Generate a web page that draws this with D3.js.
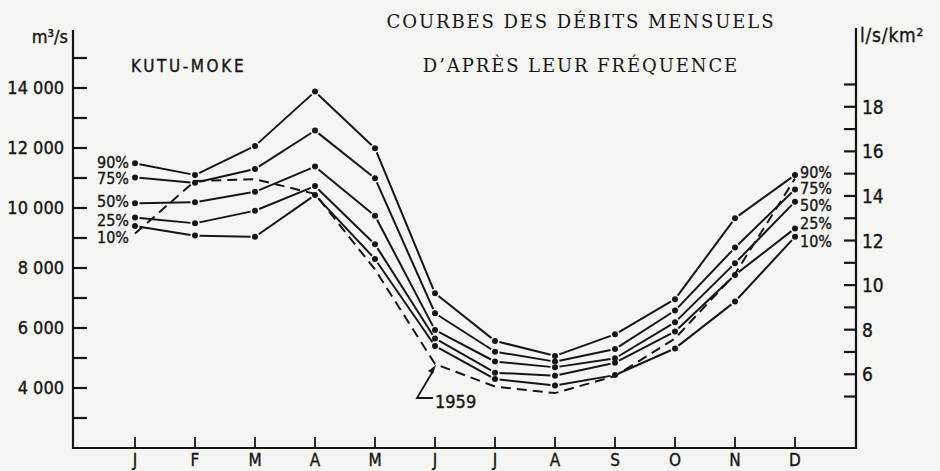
<!DOCTYPE html>
<html>
<head>
<meta charset="utf-8">
<title>Kutu-Moke - courbes des débits mensuels</title>
<script src="https://d3js.org/d3.v7.min.js"></script>
<style>
  body { margin: 0; background: #f5f5f3; }
  svg { display: block; }
  .sans { font-family: "DejaVu Sans Condensed", "DejaVu Sans", sans-serif; fill: #161616; stroke: #161616; stroke-width: 0.35px; }
  .serif { font-family: "DejaVu Serif", "Liberation Serif", serif; fill: #161616; }
</style>
</head>
<body>
<svg width="940" height="471"></svg>
<script>
// monthly discharges (m3/s) by frequency
var months = ["J", "F", "M", "A", "M", "J", "J", "A", "S", "O", "N", "D"];
var freqLabels = ["90%", "75%", "50%", "25%", "10%"];
var q90 = [11490, 11100, 12070, 13880, 11990, 7160, 5570, 5070, 5790, 6960, 9660, 11100];
var q75 = [11020, 10840, 11300, 12580, 10990, 6490, 5210, 4880, 5300, 6580, 8680, 10620];
var q50 = [10160, 10190, 10540, 11380, 9740, 5930, 4880, 4690, 4990, 6190, 8160, 10210];
var q25 = [9680, 9490, 9910, 10730, 8790, 5650, 4510, 4410, 4840, 5880, 7770, 9320];
var q10 = [9400, 9080, 9040, 10430, 8300, 5400, 4300, 4080, 4430, 5320, 6880, 9040];
var y1959 = [9150, 10900, 10960, 10470, 7950, 4800, 4050, 3830, 4400, 5650, 7800, 10980];
var leftTicks = d3.range(3000, 15001, 1000);
var rightTicks = d3.range(5, 20, 1);
var areaKm2 = 743000; // basin area, ties the two axes together

var svg = d3.select("svg");
var ink = "#161616";

var x = d3.scalePoint().domain(d3.range(12)).range([135, 795]);
var y = d3.scaleLinear().domain([2000, 14000]).range([448, 88]);
var yR = d3.scaleLinear()
  .domain(y.domain().map(function(v) { return v * 1000 / areaKm2; }))
  .range(y.range());

var fmt = d3.formatLocale({decimal: ",", thousands: " ", grouping: [3], currency: ["", ""]}).format(",");

var left = 73, right = 856, bottom = 448;

// frame
svg.append("path")
  .attr("d", "M" + left + ",30V" + bottom + "H" + right + "V28")
  .attr("fill", "none").attr("stroke", ink).attr("stroke-width", 2.2);

// left axis ticks (inside)
svg.append("g").selectAll("line").data(leftTicks).enter().append("line")
  .attr("x1", left).attr("x2", left + 14)
  .attr("y1", function(d) { return y(d); }).attr("y2", function(d) { return y(d); })
  .attr("stroke", ink).attr("stroke-width", 2.2);
svg.append("g").selectAll("text").data(leftTicks.filter(function(d) { return d % 2000 == 0 && d >= 4000; }))
  .enter().append("text").attr("class", "sans")
  .attr("x", 64).attr("y", function(d) { return y(d) + 6; })
  .attr("text-anchor", "end").attr("font-size", 18)
  .text(function(d) { return fmt(d); });

// right axis ticks (inside)
svg.append("g").selectAll("line").data(rightTicks).enter().append("line")
  .attr("x1", right - 12).attr("x2", right)
  .attr("y1", function(d) { return yR(d); }).attr("y2", function(d) { return yR(d); })
  .attr("stroke", ink).attr("stroke-width", 2.2);
svg.append("g").selectAll("text").data(rightTicks.filter(function(d) { return d % 2 == 0; }))
  .enter().append("text").attr("class", "sans")
  .attr("x", 862).attr("y", function(d) { return yR(d) + 7; })
  .attr("font-size", 19)
  .text(function(d) { return d; });

// month ticks
svg.append("g").selectAll("line").data(d3.range(12)).enter().append("line")
  .attr("x1", function(d) { return x(d); }).attr("x2", function(d) { return x(d); })
  .attr("y1", bottom - 11).attr("y2", bottom)
  .attr("stroke", ink).attr("stroke-width", 1.8);
svg.append("g").selectAll("text").data(months).enter().append("text").attr("class", "sans")
  .attr("x", function(d, i) { return x(i); }).attr("y", 466)
  .attr("text-anchor", "middle").attr("font-size", 17)
  .text(function(d) { return d; });

// unit labels
svg.append("text").attr("class", "sans").attr("x", 68).attr("y", 43)
  .attr("text-anchor", "end").attr("font-size", 18).text("m³/s");
svg.append("text").attr("class", "sans").attr("x", 860).attr("y", 42)
  .attr("font-size", 19).attr("letter-spacing", 0.8).text("l/s/km²");

// titles
svg.append("text").attr("class", "sans").attr("x", 131).attr("y", 72)
  .attr("font-size", 17).attr("letter-spacing", 2.6).text("KUTU-MOKE");
svg.append("text").attr("class", "serif").attr("x", 581).attr("y", 28)
  .attr("text-anchor", "middle").attr("font-size", 18).attr("letter-spacing", 1.9)
  .text("COURBES DES DÉBITS MENSUELS");
svg.append("text").attr("class", "serif").attr("x", 581).attr("y", 72)
  .attr("text-anchor", "middle").attr("font-size", 18).attr("letter-spacing", 1.9)
  .text("D’APRÈS LEUR FRÉQUENCE");

// 1959 dashed curve
var line = d3.line().x(function(d, i) { return x(i); }).y(function(d) { return y(d); });
svg.append("path").datum(y1959)
  .attr("d", line)
  .attr("fill", "none").attr("stroke", ink).attr("stroke-width", 2)
  .attr("stroke-dasharray", "10,6");

// frequency curves: segments stop short of the dots
var series = [q90, q75, q50, q25, q10];
var gap = 4.5;
series.forEach(function(s) {
  var g = svg.append("g");
  var pts = s.map(function(v, i) { return [x(i), y(v)]; });
  g.selectAll("line").data(d3.pairs(pts)).enter().append("line")
    .each(function(p) {
      var dx = p[1][0] - p[0][0], dy = p[1][1] - p[0][1];
      var len = Math.sqrt(dx * dx + dy * dy);
      var ux = dx / len, uy = dy / len;
      d3.select(this)
        .attr("x1", p[0][0] + ux * gap).attr("y1", p[0][1] + uy * gap)
        .attr("x2", p[1][0] - ux * gap).attr("y2", p[1][1] - uy * gap);
    })
    .attr("stroke", ink).attr("stroke-width", 2);
  g.selectAll("circle").data(pts).enter().append("circle")
    .attr("cx", function(d) { return d[0]; }).attr("cy", function(d) { return d[1]; })
    .attr("r", 3).attr("fill", ink);
});

// frequency labels on both ends
var leftLabelY = [168, 184, 207, 226, 243];
var rightLabelY = [178, 194, 211, 229, 247];
svg.append("g").selectAll("text").data(freqLabels).enter().append("text").attr("class", "sans")
  .attr("x", 129).attr("y", function(d, i) { return leftLabelY[i]; })
  .attr("text-anchor", "end").attr("font-size", 16).text(function(d) { return d; });
svg.append("g").selectAll("text").data(freqLabels).enter().append("text").attr("class", "sans")
  .attr("x", 800).attr("y", function(d, i) { return rightLabelY[i]; })
  .attr("font-size", 16).text(function(d) { return d; });

// 1959 pointer
var tipX = x(5) + 1, tipY = y(y1959[5]) + 1;
svg.append("path")
  .attr("d", "M433,398H417L" + (tipX - 3) + "," + (tipY + 6))
  .attr("fill", "none").attr("stroke", ink).attr("stroke-width", 1.8);
svg.append("path")
  .attr("d", "M" + tipX + "," + tipY + "l-8,6l5,3z")
  .attr("fill", ink);
svg.append("text").attr("class", "sans").attr("x", 435).attr("y", 408)
  .attr("font-size", 18).text("1959");
</script>
</body>
</html>
